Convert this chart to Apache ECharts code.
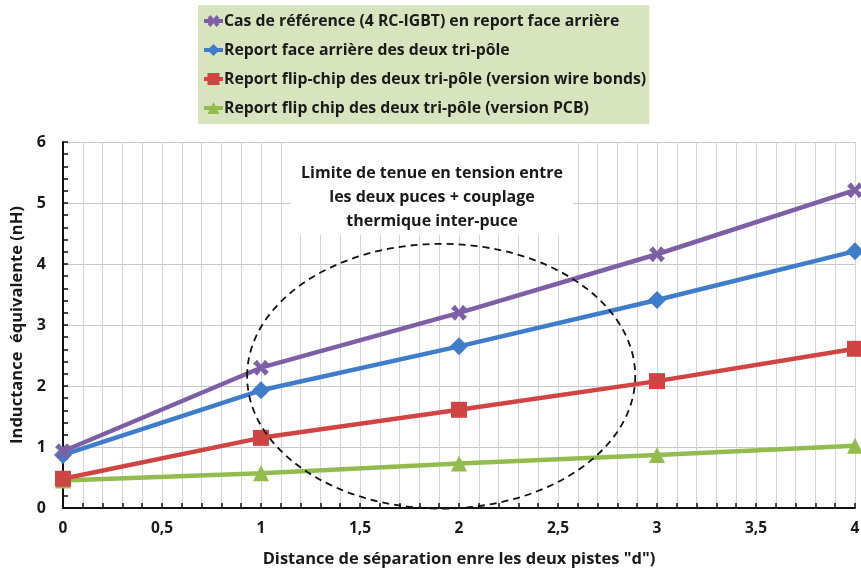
<!DOCTYPE html>
<html>
<head>
<meta charset="utf-8">
<script src="https://cdn.jsdelivr.net/npm/echarts@6/dist/echarts.min.js"></script>
<style>html,body{margin:0;padding:0;background:#fff}#c{width:861px;height:571px}</style>
</head>
<body>
<div id="c"></div>
<script>
const xValues = [0, 1, 2, 3, 4];
const seriesNames = [
  'Cas de référence (4 RC-IGBT) en report face arrière',
  'Report face arrière des deux tri-pôle',
  'Report flip-chip des deux tri-pôle (version wire bonds)',
  'Report flip chip des deux tri-pôle (version PCB)'
];
const refCase = [0.93, 2.30, 3.20, 4.16, 5.21];
const faceArriere = [0.87, 1.93, 2.65, 3.41, 4.21];
const flipWire = [0.48, 1.15, 1.61, 2.08, 2.61];
const flipPCB = [0.45, 0.57, 0.73, 0.87, 1.02];
const xTicks = [0, 0.5, 1, 1.5, 2, 2.5, 3, 3.5, 4];
const yTicks = [0, 1, 2, 3, 4, 5, 6];
const annotationLines = ['Limite de tenue en tension entre', 'les deux puces + couplage', 'thermique inter-puce'];
// ellipse region: [centerX, centerY, radiusX, radiusY] in data units
const ellipseRegion = [[1.91, 2.16, 0.98, 2.17]];

const FONT = '"Open Sans"';
const colors = ['#7D5FA6', '#3F7DCA', '#CF4543', '#92BD4E'];
const symbols = [
  'path://M-2,-4 L0,-1.5 L2,-4 L4,-2 L1.5,0 L4,2 L2,4 L0,1.5 L-2,4 L-4,2 L-1.5,0 L-4,-2 Z',
  'diamond', 'rect', 'triangle'
];
const symbolSizes = [16, 18, 16, 16];
const datasets = [refCase, faceArriere, flipWire, flipPCB];

const chart = echarts.init(document.getElementById('c'), null, {renderer: 'canvas'});

const lineSeries = datasets.map((d, i) => ({
  name: seriesNames[i],
  type: 'line',
  data: d.map((v, k) => [xValues[k], v]),
  symbol: symbols[i],
  symbolSize: symbolSizes[i],
  showAllSymbol: true,
  lineStyle: {color: colors[i], width: 4.5},
  itemStyle: {color: colors[i]},
  emphasis: {disabled: true},
  z: 10 - i
}));

const option = {
  animation: false,
  backgroundColor: '#ffffff',
  textStyle: {fontFamily: FONT},
  grid: {left: 63, right: 6, top: 142, bottom: 63, containLabel: false, outerBoundsMode: 'none'},
  legend: {
    orient: 'vertical',
    left: 198, top: 5,
    backgroundColor: '#D7E4BD',
    padding: [6, 3, 6, 4],
    itemGap: 9,
    itemWidth: 19, itemHeight: 15,
    lineStyle: {width: 4},
    textStyle: {fontFamily: FONT, fontWeight: 'bold', fontSize: 15.8, lineHeight: 20, color: '#1a1a1a', padding: [0, 0, 0, -4]},
    data: seriesNames
  },
  xAxis: {
    type: 'value', min: 0, max: 4, interval: 0.5,
    name: 'Distance de séparation enre les deux pistes "d")',
    nameLocation: 'middle', nameGap: 43,
    nameTextStyle: {fontFamily: FONT, fontWeight: 'bold', fontSize: 16.5, color: '#1a1a1a'},
    axisLine: {lineStyle: {color: '#111', width: 2}},
    axisTick: {inside: true, length: 5, lineStyle: {color: '#111', width: 1.5}},
    minorTick: {show: true, splitNumber: 5, length: 5, lineStyle: {color: '#111', width: 1.5}},
    splitLine: {show: true, lineStyle: {color: '#d4d4d4', width: 1}},
    minorSplitLine: {show: true, lineStyle: {color: '#d4d4d4', width: 1}},
    axisLabel: {
      margin: 13, fontFamily: FONT, fontWeight: 'bold', fontSize: 15.5, color: '#1a1a1a',
      formatter: v => xTicks.includes(v) ? String(v).replace('.', ',') : ''
    }
  },
  yAxis: {
    type: 'value', min: 0, max: 6, interval: 1,
    name: 'Inductance  équivalente (nH)',
    nameLocation: 'middle', nameGap: 32, nameRotate: 90,
    nameTextStyle: {fontFamily: FONT, fontWeight: 'bold', fontSize: 16.5, color: '#1a1a1a'},
    axisLine: {show: true, lineStyle: {color: '#111', width: 2}},
    axisTick: {show: true, inside: true, length: 5, lineStyle: {color: '#111', width: 1.5}},
    minorTick: {show: true, splitNumber: 5, length: 5, lineStyle: {color: '#111', width: 1.5}},
    splitLine: {show: true, lineStyle: {color: '#c8c8c8', width: 1}},
    axisLabel: {
      margin: 17, fontFamily: FONT, fontWeight: 'bold', fontSize: 16, color: '#1a1a1a',
      formatter: v => yTicks.includes(v) ? String(v) : ''
    }
  },
  graphic: [
    {type: 'rect', left: 290, top: 143, z: 1, shape: {width: 283, height: 92}, style: {fill: '#ffffff'}},
    {type: 'text', x: 432, y: 161, z: 2,
     style: {text: annotationLines.join('\n'), font: 'bold 16px ' + FONT, fill: '#1a1a1a', align: 'center', verticalAlign: 'top', lineHeight: 24}}
  ],
  series: [
    ...lineSeries,
    {
      type: 'custom',
      name: 'ellipse',
      data: ellipseRegion,
      silent: true,
      clip: false,
      z: 20,
      renderItem: (params, api) => {
        const c = api.coord([api.value(0), api.value(1)]);
        const s = api.size([api.value(2), api.value(3)]);
        return {
          type: 'ellipse',
          shape: {cx: c[0], cy: c[1], rx: s[0], ry: s[1]},
          style: {fill: 'none', stroke: '#111', lineWidth: 1.8, lineDash: [7, 5]}
        };
      }
    }
  ]
};
chart.setOption(option);
</script>
</body>
</html>
